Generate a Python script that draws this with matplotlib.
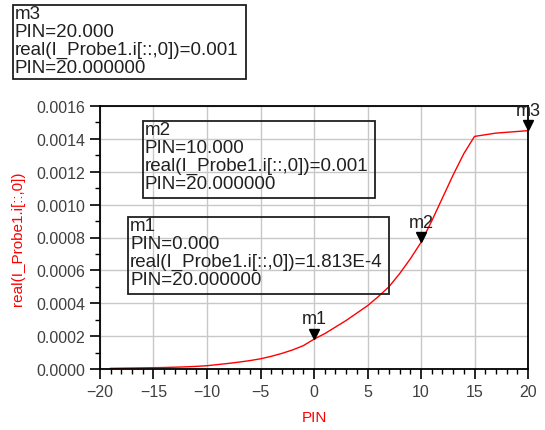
import matplotlib
matplotlib.use("Agg")
import matplotlib.pyplot as plt
import matplotlib.transforms as mtransforms
from matplotlib.patches import Rectangle
from matplotlib.ticker import MultipleLocator, FormatStrFormatter

plt.rcParams['font.family'] = ['Liberation Sans', 'DejaVu Sans']

# data (current vs input power)
pin = list(range(-19, 21))
current = [0.000004, 0.000005, 0.000006, 0.000007, 0.000008,
           0.000009, 0.000011, 0.000013, 0.000016, 0.000020, 0.000027,
           0.000034, 0.000042, 0.000051, 0.000062, 0.000077, 0.000095,
           0.000116, 0.000142, 0.0001813, 0.000215, 0.000255, 0.000295,
           0.000340, 0.000385, 0.000440, 0.000500, 0.000580, 0.000670,
           0.000770, 0.000900, 0.001040, 0.001180, 0.001310, 0.001415,
           0.001425, 0.001435, 0.001440, 0.001445, 0.001450]

marker_names = ['m1', 'm2', 'm3']
marker_pin = [0, 10, 20]
marker_val = [0.0001813, 0.000770, 0.001450]
marker_text = [
    "m1\nPIN=0.000\nreal(I_Probe1.i[::,0])=1.813E-4\nPIN=20.000000",
    "m2\nPIN=10.000\nreal(I_Probe1.i[::,0])=0.001\nPIN=20.000000",
    "m3\nPIN=20.000\nreal(I_Probe1.i[::,0])=0.001\nPIN=20.000000",
]
# box corners in pixels (left, top, right, bottom)
box_px = [(128, 218, 389, 295), (143, 122, 375, 199), (13, 6, 246, 80)]

W, H = 545, 431
fig = plt.figure(figsize=(W / 100, H / 100), dpi=100)
ax = fig.add_axes([100 / W, 1 - 370 / H, 428 / W, 263 / H])

ax.plot(pin, current, color='red', lw=1.0)

ax.set_xlim(-20, 20)
ax.set_ylim(0, 0.0016)
ax.xaxis.set_major_locator(MultipleLocator(5))
ax.xaxis.set_minor_locator(MultipleLocator(1))
ax.yaxis.set_major_locator(MultipleLocator(0.0002))
ax.yaxis.set_minor_locator(MultipleLocator(0.0001))
ax.yaxis.set_major_formatter(FormatStrFormatter('%.4f'))
ax.grid(True, which='major', color='#c8c8c8', lw=1.0)
ax.set_axisbelow(True)
ax.tick_params(which='major', length=7, width=1.2, colors='black',
               labelcolor='#404040', labelsize=11.5)
ax.tick_params(which='minor', length=3.6, width=1.0, colors='black')
for s in ax.spines.values():
    s.set_color('black')
    s.set_linewidth(1.3)

ax.set_xlabel('PIN', color='red', fontsize=11, labelpad=8)
ax.set_ylabel('real(I_Probe1.i[::,0])', color='red', fontsize=11, labelpad=8)

# marker triangles with tip on the curve
shift = mtransforms.ScaledTranslation(0, 4 / 72, fig.dpi_scale_trans)
for name, x, y in zip(marker_names, marker_pin, marker_val):
    ax.plot([x], [y], marker='v', color='black', markersize=7.5,
            transform=ax.transData + shift, clip_on=False)
    ax.annotate(name, (x, y), xytext=(0, 8.5), textcoords='offset points',
                ha='center', va='bottom', fontsize=13, color='#202020',
                annotation_clip=False)

# readout boxes
for txt, (l, t, r, b) in zip(marker_text, box_px):
    fig.patches.append(Rectangle((l / W, 1 - b / H), (r - l) / W, (b - t) / H,
                                 transform=fig.transFigure, fill=False,
                                 ec='#202020', lw=1.3))
    fig.text((l + 2) / W, 1 - t / H, txt, ha='left', va='top',
             fontsize=13.5, color='#202020', linespacing=1.07)

fig.savefig('out.png', dpi=100)
